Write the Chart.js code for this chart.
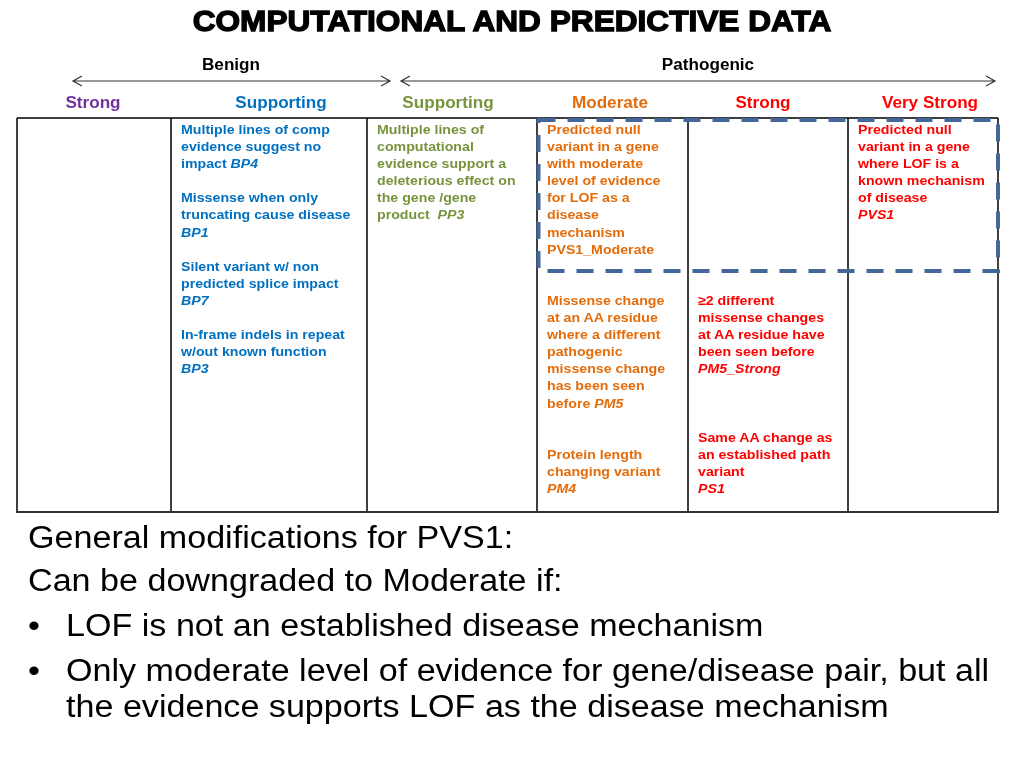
<!DOCTYPE html>
<html>
<head>
<meta charset="utf-8">
<script src="https://cdn.jsdelivr.net/npm/chart.js@4/dist/chart.umd.min.js"></script>
<style>
  html, body { margin: 0; padding: 0; background: #fff; }
  #slide { position: relative; width: 1024px; height: 768px; overflow: hidden; font-family: "Liberation Sans", Arial, sans-serif; }
  #frame { position: absolute; left: 0; top: 0; }
  .t { position: absolute; white-space: pre; }
  .title { left: 0; width: 1024px; top: 5px; text-align: center; font-size: 29px; font-weight: bold; -webkit-text-stroke: 1.3px #000; transform: scaleX(1.09); transform-origin: 512px 0; }
  .side { top: 56px; font-size: 16px; font-weight: bold; transform: translateX(-50%) scaleX(1.07); }
  .level { top: 94px; font-size: 16px; font-weight: bold; transform: translateX(-50%) scaleX(1.07); }
  .cell { top: 121px; font-size: 13px; font-weight: bold; line-height: 17.1px; transform: scaleX(1.09); transform-origin: 0 0; }
  .note { font-size: 31px; line-height: 36px; color: #000; transform: scaleX(1.1); transform-origin: 0 0; }
</style>
</head>
<body>
<div id="slide">
  <canvas id="frame" width="1024" height="768"></canvas>
</div>
<script>
var title = "COMPUTATIONAL AND PREDICTIVE DATA";
var sides = ["Benign", "Pathogenic"];
var levels = ["Strong", "Supporting", "Supporting", "Moderate", "Strong", "Very Strong"];

var benignSupporting = [
  "Multiple lines of comp", "evidence suggest no", "impact <i>BP4</i>", "",
  "Missense when only", "truncating cause disease", "<i>BP1</i>", "",
  "Silent variant w/ non", "predicted splice impact", "<i>BP7</i>", "",
  "In-frame indels in repeat", "w/out known function", "<i>BP3</i>"
];
var pathSupporting = [
  "Multiple lines of", "computational", "evidence support a",
  "deleterious effect on", "the gene /gene", "product  <i>PP3</i>"
];
var pathModerate = [
  "Predicted null", "variant in a gene", "with moderate", "level of evidence",
  "for LOF as a", "disease", "mechanism", "PVS1_Moderate", "", "",
  "Missense change", "at an AA residue", "where a different", "pathogenic",
  "missense change", "has been seen", "before <i>PM5</i>", "", "",
  "Protein length", "changing variant", "<i>PM4</i>"
];
var pathStrong = [
  "", "", "", "", "", "", "", "", "", "",
  "\u22652 different", "missense changes", "at AA residue have",
  "been seen before", "<i>PM5_Strong</i>", "", "", "",
  "Same AA change as", "an established path", "variant", "<i>PS1</i>"
];
var pathVeryStrong = [
  "Predicted null", "variant in a gene", "where LOF is a",
  "known mechanism", "of disease", "<i>PVS1</i>"
];
var cells = [[], benignSupporting, pathSupporting, pathModerate, pathStrong, pathVeryStrong];

var notes = [
  "General modifications for PVS1:",
  "Can be downgraded to Moderate if:",
  "\u2022 LOF is not an established disease mechanism",
  "\u2022 Only moderate level of evidence for gene/disease pair, but all",
  "  the evidence supports LOF as the disease mechanism"
];

// layout / style
var levelColors = ["#7030A0", "#0070C0", "#77933C", "#E46C0A", "#FF0000", "#FF0000"];
var levelX = [93, 281, 448, 610, 763, 930];
var colEdges = [17, 171, 367, 537, 688, 848, 998];
var tableTop = 118, tableBottom = 512;
var sideX = [231, 708];
var noteY = [520, 563, 608, 653, 689];

var slide = document.getElementById('slide');
function addText(cls, html, css) {
  var d = document.createElement('div');
  d.className = 't ' + cls;
  d.innerHTML = html;
  for (var k in css) d.style[k] = css[k];
  slide.appendChild(d);
  return d;
}

addText('title', title, {});
sides.forEach(function (s, i) { addText('side', s, { left: sideX[i] + 'px' }); });
levels.forEach(function (s, i) { addText('level', s, { left: levelX[i] + 'px', color: levelColors[i] }); });
cells.forEach(function (lines, i) {
  if (!lines.length) return;
  addText('cell', lines.join('\n'), { left: (colEdges[i] + 10) + 'px', color: levelColors[i] });
});

notes.forEach(function (n, i) {
  var bullet = n.charAt(0) === '\u2022';
  var indent = n.indexOf('  ') === 0;
  if (bullet) addText('note', '\u2022', { left: '28px', top: noteY[i] + 'px' });
  addText('note', bullet || indent ? n.slice(2) : n, { left: (bullet || indent ? 66 : 28) + 'px', top: noteY[i] + 'px' });
});

// table frame, dashed PVS1 box and arrows drawn by Chart.js
var framePlugin = {
  id: 'frame',
  afterDraw: function (chart) {
    var ctx = chart.ctx;
    var xs = chart.scales.x, ys = chart.scales.y;
    function X(v) { return xs.getPixelForValue(v); }
    function Y(v) { return ys.getPixelForValue(v); }
    ctx.save();
    ctx.strokeStyle = '#000';
    ctx.lineWidth = 1.5;
    ctx.beginPath();
    ctx.moveTo(X(colEdges[0]), Y(tableTop));
    ctx.lineTo(X(colEdges[6]), Y(tableTop));
    colEdges.forEach(function (e) {
      ctx.moveTo(X(e), Y(tableTop));
      ctx.lineTo(X(e), Y(tableBottom));
    });
    ctx.stroke();
    ctx.strokeStyle = '#333';
    ctx.lineWidth = 2.2;
    ctx.beginPath();
    ctx.moveTo(X(colEdges[0]) - 1, Y(tableBottom));
    ctx.lineTo(X(colEdges[6]) + 1, Y(tableBottom));
    ctx.stroke();

    // dashed box
    ctx.strokeStyle = '#44679A';
    ctx.lineWidth = 4;
    ctx.setLineDash([17, 12]);
    ctx.strokeRect(X(538.5), Y(120), X(998) - X(538.5), Y(271) - Y(120));
    ctx.setLineDash([]);

    // arrows
    ctx.strokeStyle = '#333';
    ctx.lineWidth = 1.2;
    function arrow(x1, x2, y) {
      ctx.beginPath();
      ctx.moveTo(X(x1), Y(y)); ctx.lineTo(X(x2), Y(y));
      ctx.moveTo(X(x1) + 9, Y(y) - 5); ctx.lineTo(X(x1), Y(y)); ctx.lineTo(X(x1) + 9, Y(y) + 5);
      ctx.moveTo(X(x2) - 9, Y(y) - 5); ctx.lineTo(X(x2), Y(y)); ctx.lineTo(X(x2) - 9, Y(y) + 5);
      ctx.stroke();
    }
    arrow(73, 390, 81);
    arrow(401, 995, 81);
    ctx.restore();
  }
};

new Chart(document.getElementById('frame'), {
  type: 'scatter',
  data: { datasets: [{ data: [] }] },
  options: {
    responsive: false,
    animation: false,
    devicePixelRatio: 1,
    layout: { padding: 0 },
    plugins: { legend: { display: false }, tooltip: { enabled: false } },
    scales: {
      x: { type: 'linear', min: 0, max: 1024, display: false },
      y: { type: 'linear', min: 0, max: 768, reverse: true, display: false }
    }
  },
  plugins: [framePlugin]
});
</script>
</body>
</html>
